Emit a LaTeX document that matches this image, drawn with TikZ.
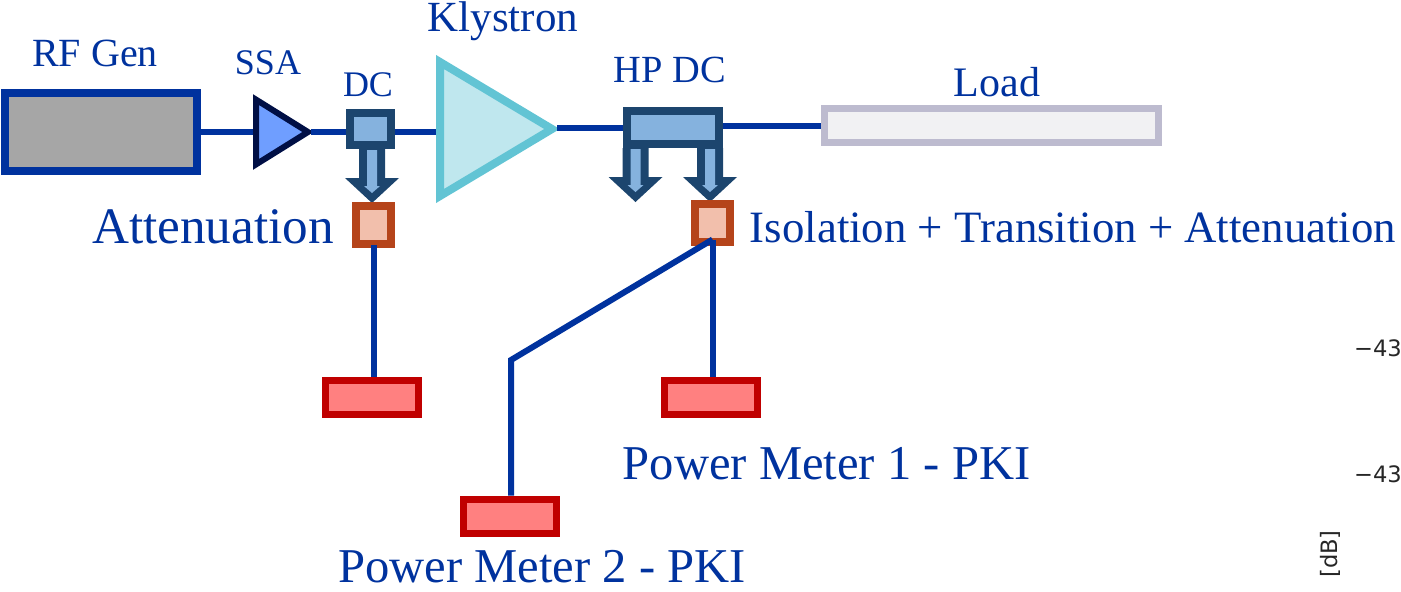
\documentclass[tikz,border=0pt]{standalone}
\usepackage{xcolor}
\usepackage{fontspec}
\setmainfont{Liberation Serif}
\newfontfamily\plotfont{DejaVu Sans}
\usetikzlibrary{positioning,calc}
\definecolor{feedblue}{HTML}{00329E}
\definecolor{rffill}{HTML}{A6A6A6}
\definecolor{ssaedge}{HTML}{000F45}
\definecolor{ssafill}{HTML}{6F9EFF}
\definecolor{klyedge}{HTML}{62C4D4}
\definecolor{klyfill}{HTML}{BFE7EE}
\definecolor{dcedge}{HTML}{1C456E}
\definecolor{dcfill}{HTML}{85B2DE}
\definecolor{attedge}{HTML}{B5441A}
\definecolor{attfill}{HTML}{F2BFAC}
\definecolor{mtredge}{HTML}{C00000}
\definecolor{mtrfill}{HTML}{FF8080}
\definecolor{loadedge}{HTML}{BDBBCF}
\definecolor{loadfill}{HTML}{F1F1F3}
\definecolor{plotink}{HTML}{262626}
\newcommand{\lblsize}[1]{\fontsize{#1}{#1}\selectfont}
\tikzset{
    feed/.style={draw=feedblue,line width=3pt},
    box/.style={draw,rectangle,inner sep=0pt,line width=4pt},
    dcbox/.style={box,draw=dcedge,fill=dcfill},
    attbox/.style={box,draw=attedge,fill=attfill,minimum width=17.5pt,minimum height=19pt},
    mtrbox/.style={box,draw=mtredge,fill=mtrfill,line width=3.5pt,minimum width=46.5pt,minimum height=17pt},
    lbl/.style={text=feedblue,inner sep=0pt},
    ticklbl/.style={text=plotink,inner sep=0pt,font=\plotfont\lblsize{11.3}},
    tap/.pic={
        \fill[dcedge] (-13,0) -- (-13,29) -- (-27,29) -- (0,54) -- (27,29) -- (13,29) -- (13,0) -- cycle;
        \fill[dcfill] (-5,1) -- (-5,37) -- (-8,37) -- (0,44) -- (8,37) -- (5,37) -- (5,1) -- cycle;
    }
}
\begin{document}
\begin{tikzpicture}[x=0.5pt,y=-0.5pt]
        \useasboundingbox (0,0) rectangle (1401,591);

        % Source and amplifiers
        \node[box,draw=feedblue,fill=rffill,minimum width=96pt,minimum height=39pt] (rfgen) at (101,132) {};
        \draw[line width=3pt,draw=ssaedge,fill=ssafill] (256,99.6) -- (308,132) -- (256,164.4) -- cycle;
        \coordinate (ssain) at (253,132);
        \coordinate (ssaout) at (311,132);
        \draw[line width=4pt,draw=klyedge,fill=klyfill] (440,62) -- (552,129) -- (440,196) -- cycle;
        \coordinate (klyin) at (436,132);
        \coordinate (klyout) at (557,128);

        % Couplers
        \node[dcbox,minimum width=20.5pt,minimum height=16pt] (dc) at (370.5,129) {};
        \node[dcbox,minimum width=46pt,minimum height=16.5pt] (hpdc) at (673,127.5) {};
        \node[box,draw=loadedge,fill=loadfill,line width=3.5pt,minimum width=167pt,minimum height=17pt] (load) at (991.5,125.5) {};

        % Coupled arms
        \pic at (372,149) {tap};
        \pic at (635.5,148) {tap};
        \pic at (710,148) {tap};
        \node[attbox] (attleft) at (373.5,225) {};
        \node[attbox] (attright) at (712.5,222.5) {};

        % Power meters
        \node[mtrbox] (mtrleft) at (372,397.5) {};
        \node[mtrbox] (mtrone) at (710.5,397) {};
        \node[mtrbox] (mtrtwo) at (510,516) {};
        \coordinate (bend) at (511,360);

        % Feed lines
        \draw[feed] (rfgen.east) -- (ssain);
        \draw[feed] (ssaout) -- (ssaout -| dc.west);
        \draw[feed] (dc.east |- klyin) -- (klyin);
        \draw[feed] (klyout) -- (klyout -| hpdc.west);
        \draw[feed] (hpdc.east |- load.west) -- (load.west);
        \draw[feed] ([yshift=1.5pt]attleft.south) -- (attleft.south |- mtrleft.north);
        \draw[feed] ([yshift=3pt]attright.south) -- (attright.south |- mtrone.north);
        \draw[feed] ([yshift=3pt]attright.south) -- (bend) -- (bend |- mtrtwo.north);

        % Labels
        \node[lbl,font=\lblsize{20}] (rfgenlbl) at (95,53) {RF Gen};
        \node[lbl,font=\lblsize{18}] (ssalbl) at (268,63) {SSA};
        \node[lbl,font=\lblsize{18}] (dclbl) at (368,85) {DC};
        \node[lbl,font=\lblsize{21.5}] (klylbl) at (503,21) {Klystron};
        \node[lbl,font=\lblsize{19.2}] (hpdclbl) at (670,70) {HP DC};
        \node[lbl,font=\lblsize{21}] (loadlbl) at (997,82) {Load};
        \node[lbl,font=\lblsize{25.6}] (attlbl) at (213,227) {Attenuation};
        \node[lbl,font=\lblsize{22.4}] (isolbl) at (1073,227) {Isolation + Transition + Attenuation};
        \node[lbl,font=\lblsize{24.3}] (mtronelbl) at (826.5,464) {Power Meter 1 - PKI};
        \node[lbl,font=\lblsize{24.3}] (mtrtwolbl) at (542,567) {Power Meter 2 - PKI};

        % Leftovers of the plot behind
        \node[ticklbl] (tickone) at (1378,348) {−43};
        \node[ticklbl] (ticktwo) at (1378,474) {−43};
        \node[ticklbl,rotate=90] (dblbl) at (1330,554) {[dB]};
\end{tikzpicture}
\end{document}
